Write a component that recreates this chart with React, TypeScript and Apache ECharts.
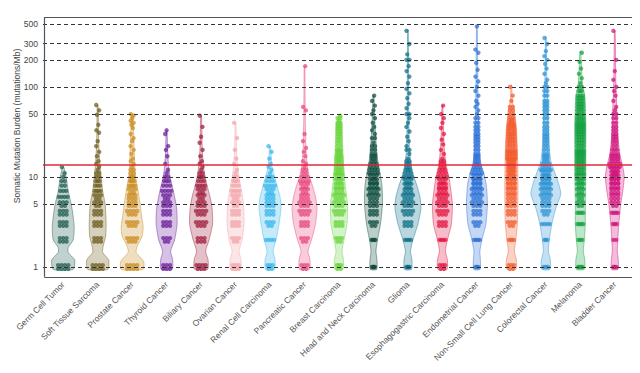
import React, { useEffect, useRef } from "react";
import * as echarts from "echarts";

const categories = [
  "Germ Cell Tumor", "Soft Tissue Sarcoma", "Prostate Cancer", "Thyroid Cancer", "Biliary Cancer",
  "Ovarian Cancer", "Renal Cell Carcinoma", "Pancreatic Cancer", "Breast Carcinoma", "Head and Neck Carcinoma",
  "Glioma", "Esophagogastric Carcinoma", "Endometrial Cancer", "Non-Small Cell Lung Cancer", "Colorectal Cancer",
  "Melanoma", "Bladder Cancer",
];

const colors = [
  "#1d5b4f", "#6b5a1a", "#c98a1c", "#6a1b9a", "#9e1b3b", "#f2a2a8", "#33b5ec", "#e8457c", "#66d43a",
  "#0b4b3c", "#0b6e88", "#e3103f", "#2a6fd6", "#f25a2c", "#2a91d4", "#12a03e", "#cf0f7a",
];

const tickValues = [1, 5, 10, 50, 100, 200, 300, 500];
const threshold = 13.9;
const yMin = 0.755;
const yMax = 614;

// violin profiles: [value, relative density]
const germCellViolin = [[0.94, 10], [1.2, 11.5], [1.45, 5], [1.65, 5], [2.0, 10], [2.8, 11], [4, 9.5], [5, 8], [7, 5], [10, 3], [12.9, 0.6]];
const softTissueViolin = [[0.94, 10], [1.2, 11], [1.45, 5], [1.7, 5.5], [2.2, 8], [3, 8.5], [5, 7.5], [7, 5], [10, 3.5], [15, 2], [25, 1], [63, 0.4]];
const prostateViolin = [[0.94, 11], [1.15, 11.5], [1.45, 4], [1.7, 5], [2.2, 10], [2.8, 11], [4, 9], [5, 8], [7, 6], [10, 3.5], [15, 2.5], [30, 1.5], [50, 0.6]];
const thyroidViolin = [[0.94, 5.5], [1.2, 6], [1.5, 4], [2, 8], [3, 10.5], [4.5, 10], [6, 8], [8, 5.5], [10, 3.5], [13, 2], [20, 1], [33, 0.4]];
const biliaryViolin = [[0.94, 6.5], [1.2, 7], [1.5, 4.5], [2, 8], [3, 11.5], [4.5, 11], [6, 9], [8, 6], [10, 4], [13, 2.5], [20, 1.2], [48, 0.4]];
const ovarianViolin = [[0.94, 5], [1.2, 5.5], [1.5, 3.5], [2, 6.5], [3, 8.5], [5, 8], [7, 6], [10, 3.5], [13, 2], [20, 1], [40, 0.4]];
const renalViolin = [[0.94, 4.5], [1.2, 5], [1.5, 3], [2, 6], [3, 9], [4.5, 11], [6, 10], [8, 7], [10, 4.5], [13, 2], [18, 1], [22, 0.4]];
const pancreaticViolin = [[0.94, 5], [1.2, 5.5], [1.5, 3.5], [2, 7], [3, 11], [4.5, 12.5], [6, 11], [8, 8], [10, 5], [13, 3], [20, 1.5], [50, 0.7], [170, 0.35]];
const breastViolin = [[0.94, 4], [1.2, 4.5], [1.5, 3], [2, 5], [3, 8], [5, 8.5], [7, 7], [10, 5.5], [15, 4.5], [25, 3.5], [40, 2.5], [48, 0.8]];
const headNeckViolin = [[0.94, 3.2], [1.2, 3.5], [1.5, 2.5], [2, 4], [3, 7], [5, 9], [8, 8.5], [12, 6], [16, 4], [25, 2.5], [40, 1.5], [80, 0.4]];
const gliomaViolin = [[0.94, 3.5], [1.2, 4], [1.5, 2.5], [2, 5], [3, 10], [4.5, 13], [6, 12], [8, 9], [10, 6], [13, 3.5], [20, 1.5], [50, 0.8], [430, 0.35]];
const esophagogastricViolin = [[0.94, 4.5], [1.2, 5], [1.5, 3], [2, 5], [3, 9], [5, 10], [7, 8.5], [10, 6.5], [13, 4], [20, 2], [35, 1], [62, 0.4]];
const endometrialViolin = [[0.94, 3.2], [1.2, 3.5], [1.5, 3], [2, 5], [3, 9], [5, 10.5], [8, 9.5], [11, 7], [14, 4], [20, 2.5], [50, 1.5], [100, 1], [480, 0.35]];
const nsclcViolin = [[0.94, 4.5], [1.2, 5], [1.5, 3], [2, 4.5], [3, 6], [5, 6.5], [10, 6.5], [20, 6], [35, 5], [55, 3], [70, 1], [105, 0.4]];
const colorectalViolin = [[0.94, 4], [1.2, 4.5], [1.5, 2.5], [2, 3.5], [3, 6], [4.5, 10], [6.5, 15], [9, 12], [12, 8], [15, 5], [25, 3], [60, 2], [120, 1], [360, 0.35]];
const melanomaViolin = [[0.94, 4], [1.2, 4.5], [1.5, 3], [2, 4], [3, 5], [5, 5], [10, 5.5], [20, 5.5], [40, 5.5], [80, 4.5], [110, 2], [250, 0.4]];
const bladderViolin = [[0.94, 3.2], [1.2, 3.5], [1.5, 2.5], [2, 3], [3, 4], [5, 6], [7, 8], [10, 9.5], [13, 8], [18, 5], [30, 3], [60, 2], [120, 1], [420, 0.35]];

// points: [value (mutations/Mb), number of samples at that value]
const germCellDots = [[1, 8], [2, 6], [3, 6], [4, 6], [5, 5], [6, 4], [7, 3], [8, 2], [9, 2], [10, 1], [11, 1], [12.9, 1]];
const softTissueDots = [[1, 8], [2, 6], [3, 6], [4, 6], [5, 5], [6, 5], [7, 4], [8, 3], [9, 3], [10, 2], [11, 2], [12, 1], [13, 1], [14, 1], [15, 1], [17, 1], [19, 1], [22, 1], [25, 1], [31, 1], [33, 1], [38, 1], [49, 1], [55, 1], [63, 1]];
const prostateDots = [[1, 8], [2, 7], [3, 7], [4, 7], [5, 6], [6, 6], [7, 5], [8, 4], [9, 4], [10, 3], [11, 2], [12, 2], [13, 1], [14, 1], [15, 1], [16, 1], [18, 1], [20, 1], [22, 1], [25, 1], [27, 1], [30, 1], [35, 1], [38, 1], [40, 1], [42, 1], [45, 1], [48, 1], [50, 1]];
const thyroidDots = [[1, 6], [2, 5], [3, 6], [4, 6], [5, 6], [6, 5], [7, 4], [8, 3], [9, 3], [10, 2], [11, 1], [12, 1], [14, 1], [17, 1], [20, 1], [22, 1], [30, 1], [33, 1]];
const biliaryDots = [[1, 7], [2, 6], [3, 7], [4, 7], [5, 6], [6, 5], [7, 5], [8, 4], [9, 3], [10, 3], [11, 2], [12, 1], [13, 1], [14, 1], [15, 1], [17, 1], [20, 1], [24, 1], [28, 1], [36, 1], [48, 1]];
const ovarianDots = [[1, 6], [2, 5], [3, 6], [4, 6], [5, 5], [6, 5], [7, 4], [8, 3], [9, 3], [10, 2], [11, 1], [12, 1], [14, 1], [16, 1], [20, 1], [27, 1], [40, 1]];
const renalDots = [[1, 5], [2, 4], [3, 5], [4, 6], [5, 6], [6, 6], [7, 5], [8, 4], [9, 3], [10, 3], [11, 1], [12, 1], [13, 1], [14, 1], [16, 1], [19, 1], [22, 1]];
const pancreaticDots = [[1, 5], [2, 5], [3, 6], [4, 7], [5, 7], [6, 6], [7, 5], [8, 5], [9, 4], [10, 3], [11, 2], [12, 2], [13, 1], [14, 1], [15, 1], [17, 1], [19, 1], [21, 1], [25, 1], [30, 1], [55, 1], [60, 1], [170, 1]];
const breastDots = [[1, 5], [2, 5], [3, 6], [4, 7], [5, 7], [6, 7], [7, 6], [8, 6], [9, 5], [10, 5], [11, 4], [12, 4], [13, 3], [14, 3], [15, 3], [16, 3], [17, 3], [18, 2], [19, 2], [20, 3], [22, 2], [24, 2], [26, 2], [28, 2], [30, 2], [32, 2], [34, 2], [36, 2], [38, 2], [40, 2], [42, 1], [45, 2], [48, 1]];
const headNeckDots = [[1, 4], [2, 4], [3, 5], [4, 6], [5, 6], [6, 7], [7, 7], [8, 6], [9, 6], [10, 5], [11, 4], [12, 4], [13, 3], [14, 3], [15, 2], [16, 2], [17, 2], [18, 2], [20, 2], [22, 2], [24, 1], [27, 2], [30, 1], [33, 1], [36, 1], [40, 1], [45, 1], [50, 1], [55, 1], [62, 1], [70, 1], [80, 1]];
const gliomaDots = [[1, 4], [2, 4], [3, 6], [4, 7], [5, 7], [6, 7], [7, 6], [8, 5], [9, 5], [10, 4], [11, 3], [12, 3], [13, 2], [14, 2], [15, 2], [16, 1], [18, 1], [20, 2], [22, 1], [25, 1], [28, 1], [32, 1], [36, 1], [40, 1], [45, 1], [50, 2], [58, 1], [65, 1], [75, 1], [85, 1], [95, 1], [110, 1], [130, 1], [150, 1], [170, 1], [200, 2], [230, 1], [300, 1], [420, 1]];
const esophagogastricDots = [[1, 5], [2, 4], [3, 6], [4, 7], [5, 7], [6, 7], [7, 6], [8, 6], [9, 5], [10, 4], [11, 3], [12, 3], [13, 2], [14, 2], [15, 2], [16, 1], [18, 1], [20, 1], [23, 1], [26, 1], [30, 1], [35, 1], [40, 1], [45, 1], [50, 1], [62, 1]];
const endometrialDots = [[1, 3], [2, 4], [3, 5], [4, 6], [5, 7], [6, 7], [7, 7], [8, 6], [9, 6], [10, 6], [11, 4], [12, 4], [13, 3], [14, 3], [15, 2], [16, 2], [17, 2], [18, 2], [20, 2], [22, 2], [24, 2], [26, 2], [28, 2], [30, 2], [33, 2], [36, 2], [40, 2], [45, 2], [50, 1], [55, 1], [60, 1], [65, 1], [70, 1], [80, 1], [90, 1], [100, 1], [115, 1], [130, 1], [155, 1], [185, 1], [240, 1], [260, 1], [470, 1]];
const nsclcDots = [[1, 5], [2, 4], [3, 5], [4, 6], [5, 6], [6, 6], [7, 6], [8, 6], [9, 6], [10, 6], [11, 5], [12, 5], [13, 5], [14, 5], [15, 5], [16, 4], [17, 4], [18, 4], [19, 4], [20, 4], [22, 4], [24, 4], [26, 4], [28, 4], [30, 4], [32, 3], [34, 3], [36, 3], [38, 3], [40, 3], [43, 3], [46, 2], [50, 2], [55, 2], [60, 2], [70, 1], [80, 1], [100, 1]];
const colorectalDots = [[1, 3], [2, 3], [3, 4], [4, 5], [5, 6], [6, 7], [7, 7], [8, 7], [9, 6], [10, 6], [11, 5], [12, 4], [13, 3], [14, 3], [15, 2], [16, 2], [17, 2], [18, 2], [20, 2], [22, 2], [24, 2], [26, 2], [28, 2], [30, 2], [33, 2], [36, 2], [40, 2], [45, 2], [50, 2], [55, 2], [60, 2], [65, 2], [70, 2], [80, 2], [90, 2], [100, 2], [110, 1], [120, 1], [140, 1], [160, 1], [180, 1], [200, 1], [220, 1], [250, 1], [300, 1], [350, 1]];
const melanomaDots = [[1, 4], [2, 3], [3, 4], [4, 4], [5, 5], [6, 5], [7, 5], [8, 5], [9, 5], [10, 5], [11, 4], [12, 4], [13, 4], [14, 4], [15, 4], [16, 4], [17, 4], [18, 4], [19, 4], [20, 4], [22, 4], [24, 4], [26, 4], [28, 4], [30, 4], [32, 4], [34, 4], [36, 4], [38, 4], [40, 4], [43, 4], [46, 4], [50, 4], [55, 4], [60, 4], [65, 4], [70, 3], [75, 3], [80, 3], [90, 3], [100, 2], [110, 1], [125, 1], [140, 1], [160, 1], [190, 1], [240, 1]];
const bladderDots = [[1, 3], [2, 2], [3, 3], [4, 4], [5, 5], [6, 6], [7, 6], [8, 6], [9, 6], [10, 6], [11, 5], [12, 5], [13, 4], [14, 4], [15, 3], [16, 3], [17, 3], [18, 3], [20, 3], [22, 2], [24, 2], [26, 2], [28, 2], [30, 2], [33, 2], [36, 2], [40, 2], [45, 2], [50, 2], [55, 1], [60, 1], [70, 1], [80, 1], [90, 1], [100, 1], [120, 1], [150, 1], [200, 1], [420, 1]];

const violins = [germCellViolin, softTissueViolin, prostateViolin, thyroidViolin, biliaryViolin, ovarianViolin, renalViolin, pancreaticViolin, breastViolin, headNeckViolin, gliomaViolin, esophagogastricViolin, endometrialViolin, nsclcViolin, colorectalViolin, melanomaViolin, bladderViolin];
const dotSets = [germCellDots, softTissueDots, prostateDots, thyroidDots, biliaryDots, ovarianDots, renalDots, pancreaticDots, breastDots, headNeckDots, gliomaDots, esophagogastricDots, endometrialDots, nsclcDots, colorectalDots, melanomaDots, bladderDots];

const FONT = "'Liberation Sans', Arial, Helvetica, sans-serif";
const FRAME = "#555555";

function hexToRgba(hex: string, a: number) {
  const n = parseInt(hex.slice(1), 16);
  return `rgba(${(n >> 16) & 255},${(n >> 8) & 255},${n & 255},${a})`;
}

function widthAt(prof: number[][], v: number) {
  const lv = Math.log10(v);
  if (v <= prof[0][0]) return prof[0][1];
  for (let k = 1; k < prof.length; k++) {
    if (v <= prof[k][0]) {
      const a = Math.log10(prof[k - 1][0]);
      const b = Math.log10(prof[k][0]);
      const t = (lv - a) / (b - a);
      return prof[k - 1][1] + t * (prof[k][1] - prof[k - 1][1]);
    }
  }
  return prof[prof.length - 1][1];
}

const singleOffsets = [0, 1.4, -1.4, 0.7, -0.7, 2, -2];

export default function App() {
  const ref = useRef<HTMLDivElement>(null);
  useEffect(() => {
    if (!ref.current) return;
    const chart = echarts.init(ref.current, undefined, { renderer: "svg" });
    const L = Math.log10;
    const catData = categories.map((_, i) => [i, 0]);
    const xMin = -0.586;
    const xMax = categories.length - 1 + 0.586;
    // frame positions, nudged half a pixel inside the plot
    const yPx = (L(yMax) - L(yMin)) / 262;
    const xPx = (xMax - xMin) / 592;
    const frameTop = L(yMax) - 1.2 * yPx;
    const frameBottom = L(yMin) + 1.2 * yPx;
    const frameLeft = xMin + 1.2 * xPx;
    const frameRight = xMax - 1.2 * xPx;

    const violinSeries = {
      type: "custom",
      z: 2,
      data: catData,
      renderItem: (params: any, api: any) => {
        const i = params.dataIndex;
        const band = api.size([1, 0])[0];
        const s = band / 34.5;
        const cx = api.coord([i, 0])[0];
        const Y = (v: number) => api.coord([i, L(v)])[1];
        const prof = violins[i];
        const right = prof.map(([v, w]) => [cx + w * s, Y(v)]);
        const left = prof.slice().reverse().map(([v, w]) => [cx - w * s, Y(v)]);
        return {
          type: "polygon",
          shape: { points: [...right, ...left], smooth: 0.2 },
          style: { fill: hexToRgba(colors[i], 0.28), stroke: hexToRgba(colors[i], 0.55), lineWidth: 0.8 },
        };
      },
    };

    const dotSeries = {
      type: "custom",
      z: 4,
      data: catData,
      renderItem: (params: any, api: any) => {
        const i = params.dataIndex;
        const band = api.size([1, 0])[0];
        const s = band / 34.5;
        const cx = api.coord([i, 0])[0];
        const Y = (v: number) => api.coord([i, L(v)])[1];
        const prof = violins[i];
        const children: any[] = [];
        const fill = hexToRgba(colors[i], 0.72);
        let single = 0;
        dotSets[i].forEach(([v, n]) => {
          const y = Y(v);
          const hw = Math.max(1.5, widthAt(prof, v) * s - 2);
          if (n === 1) {
            const off = singleOffsets[single % singleOffsets.length];
            single++;
            children.push({ type: "circle", shape: { cx: cx + Math.max(-hw, Math.min(hw, off)), cy: y, r: 2.2 }, style: { fill } });
            return;
          }
          const rows = n > 4 ? 2 : 1;
          for (let r = 0; r < rows; r++) {
            const m = r === 0 ? Math.ceil(n / rows) : n - Math.ceil(n / rows);
            const dy = rows === 2 ? (r === 0 ? -1.8 : 1.8) : 0;
            const span = Math.min(2 * hw, (m - 1) * 3.4);
            for (let k = 0; k < m; k++) {
              const dx = m === 1 ? 0 : -span / 2 + (span * k) / (m - 1);
              children.push({ type: "circle", shape: { cx: cx + dx, cy: y + dy, r: 2.2 }, style: { fill } });
            }
          }
        });
        return { type: "group", children };
      },
    };

    const option: any = {
      animation: false,
      grid: { left: 43, right: 5, top: 16, bottom: 95 },
      xAxis: {
        type: "value",
        min: xMin,
        max: xMax,
        axisLine: { show: false },
        axisTick: { show: false },
        splitLine: { show: false },
        axisLabel: {
          customValues: categories.map((_, i) => i),
          formatter: (val: number) => categories[Math.round(val)] ?? "",
          rotate: 45, fontSize: 8.5, color: "#555", margin: 5, fontFamily: FONT,
        },
      },
      yAxis: {
        type: "value",
        min: L(yMin),
        max: L(yMax),
        axisLine: { show: false },
        axisTick: { show: false },
        splitLine: { show: false },
        axisLabel: {
          customValues: tickValues.map((v) => L(v)),
          formatter: (val: number) => String(Math.round(Math.pow(10, val))),
          fontSize: 8.5,
          color: "#444",
          margin: 5,
          fontFamily: FONT,
        },
      },
      graphic: [
        {
          type: "text",
          x: 17,
          y: 126,
          rotation: Math.PI / 2,
          style: {
            text: "Somatic Mutation Burden (mutations/Mb)",
            fontSize: 8.5,
            fill: "#444",
            fontFamily: FONT,
            align: "center",
            verticalAlign: "middle",
          },
        },
      ],
      series: [
        {
          type: "line",
          data: [],
          z: 1,
          markLine: {
            silent: true,
            symbol: "none",
            label: { show: false },
            lineStyle: { type: [4, 3], color: "#333", width: 1 },
            data: tickValues.map((v) => ({ yAxis: L(v) })),
          },
        },
        violinSeries,
        {
          type: "line",
          data: [],
          z: 3,
          markLine: {
            silent: true,
            symbol: "none",
            label: { show: false },
            lineStyle: { type: "solid", color: "#e0283a", width: 1.6 },
            data: [{ yAxis: L(threshold) }],
          },
        },
        dotSeries,
        {
          type: "line",
          data: [],
          z: 6,
          markLine: {
            silent: true,
            symbol: "none",
            label: { show: false },
            lineStyle: { type: "solid", color: FRAME, width: 1.2 },
            data: [
              [{ coord: [frameLeft, frameTop] }, { coord: [frameRight, frameTop] }],
              [{ coord: [frameLeft, frameBottom] }, { coord: [frameRight, frameBottom] }],
              [{ coord: [frameLeft, frameTop] }, { coord: [frameLeft, frameBottom] }],
              [{ coord: [frameRight, frameTop] }, { coord: [frameRight, frameBottom] }],
            ],
          },
        },
      ],
    };
    chart.setOption(option);
    return () => chart.dispose();
  }, []);
  return <div ref={ref} style={{ width: 640, height: 373, margin: -8 }} />;
}
